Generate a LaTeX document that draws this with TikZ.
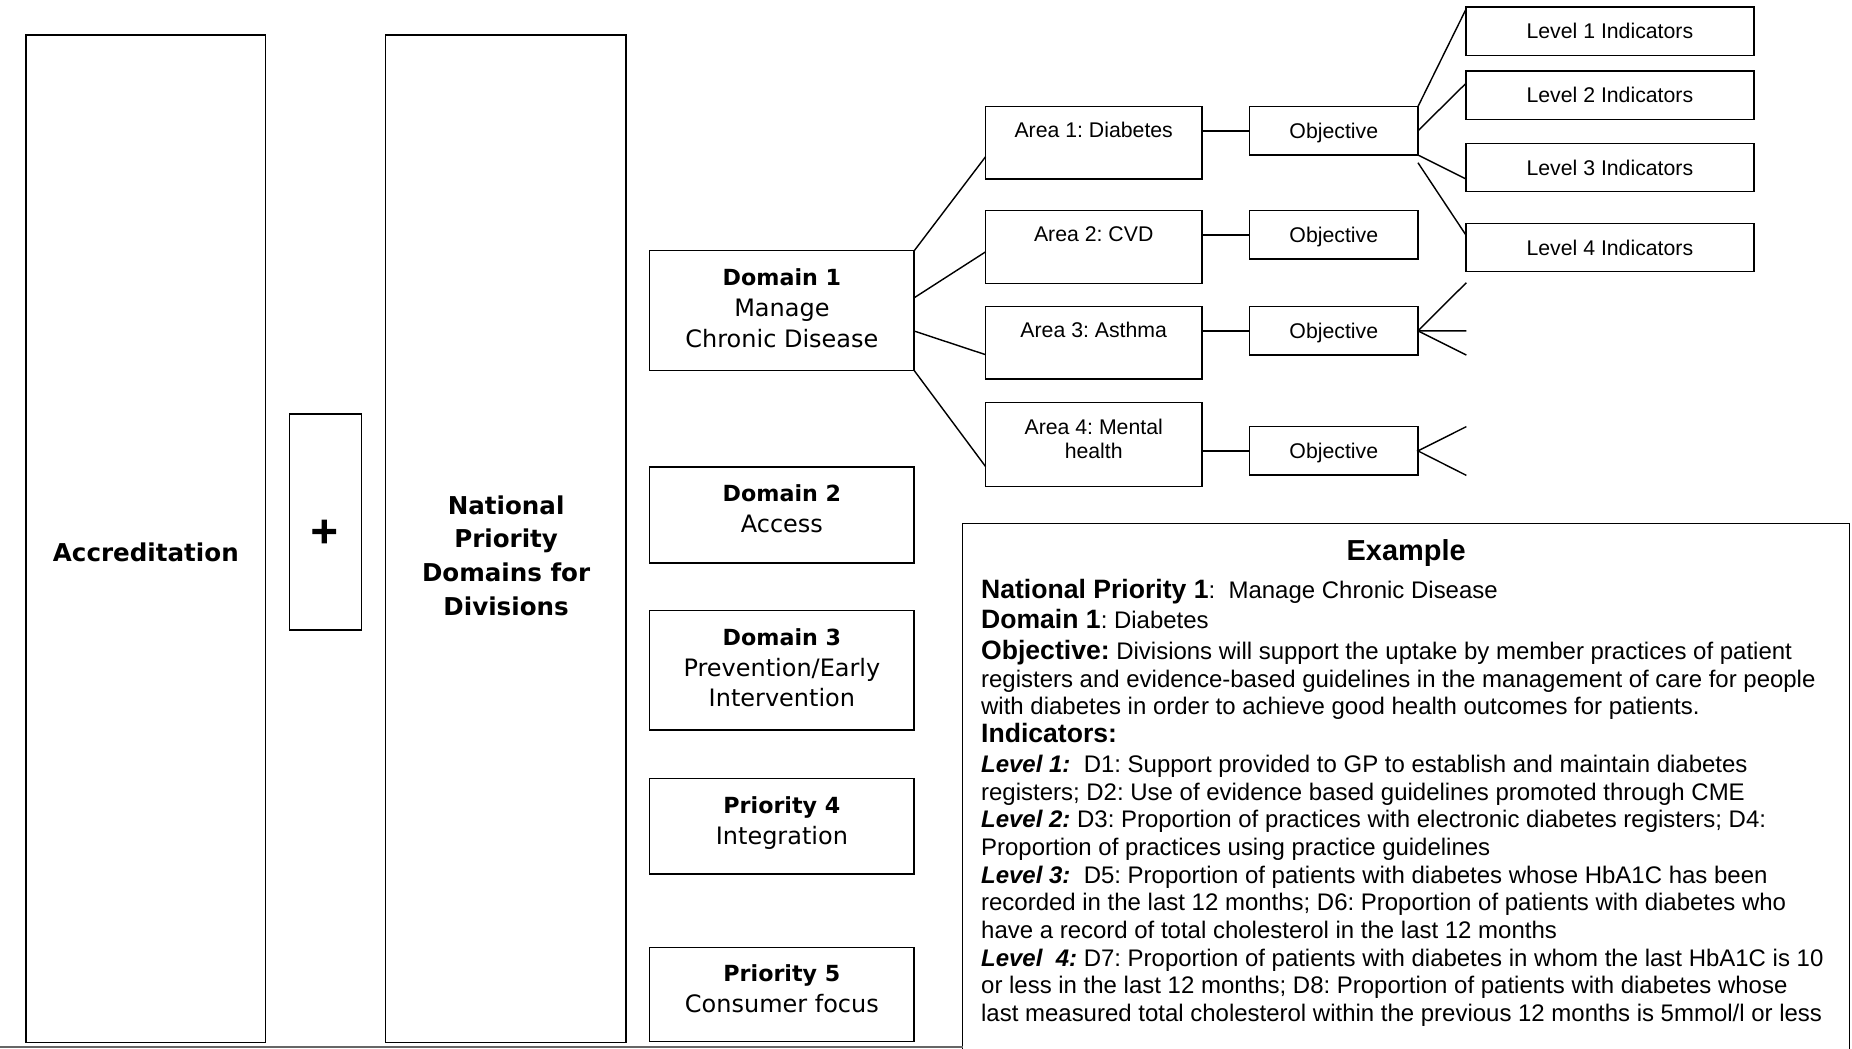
\documentclass[tikz,border=0pt]{standalone}
\usepackage{fontspec}
\setmainfont{Liberation Sans}
\newfontfamily\verdfont{DejaVu Sans}
\newfontfamily\plusfont[FakeBold=2.5]{DejaVu Sans Bold}
\newcommand{\hd}[1]{{\fontsize{22.5}{23.4}\selectfont\bfseries #1}}
\newcommand{\lv}[1]{\textbf{\textit{#1}}}
\newcommand{\dt}[1]{{\fontsize{18.8}{26}\selectfont\bfseries #1}}
\frenchspacing
\begin{document}
\begin{tikzpicture}[
            x=1pt, y=-1pt,
            frame/.style={draw, line width=1.2pt, inner sep=0pt, outer sep=0pt},
            link/.style={line width=1.2pt},
            headtext/.style={font=\verdfont\bfseries\fontsize{20.8}{28.7}\selectfont, align=center, inner sep=0pt},
            domtext/.style={font=\verdfont\fontsize{20.3}{26}\selectfont, align=center, inner sep=0pt},
            areatext/.style={font=\fontsize{18}{20}\selectfont, align=center, inner sep=0pt},
            smallbox/.style={frame, font=\fontsize{18}{20}\selectfont, text depth=0pt, minimum height=41pt}
                           ]
            \useasboundingbox (0,0) rectangle (1568,888);

            % 1. The two tall columns and the plus sign
            \node[frame, minimum width=203pt, minimum height=853pt] (acc) at (123.5,456) {};
            \node[headtext] (acc-t) at (123.5,468) {Accreditation};
            \node[frame, minimum width=61pt, minimum height=183pt] (plus) at (275.5,442) {};
            \node[inner sep=0pt, font=\plusfont\fontsize{31}{31}\selectfont] (plus-t) at (274.5,450) {+};
            \node[frame, minimum width=203.5pt, minimum height=853pt] (npd) at (428.25,456) {};
            \node[headtext] (npd-t) at (428.5,470.5) {National\\Priority\\Domains for\\Divisions};

            % 2. Domain and priority boxes
            \foreach \n/\yb/\h/\yt/\txt in {
                d1/263/101.4/261/{\dt{Domain 1}\\Manage\\Chronic Disease},
                d2/436/81/430.5/{\dt{Domain 2}\\Access},
                d3/567.5/101/565.5/{\dt{Domain 3}\\Prevention/Early\\Intervention},
                p4/699.5/81/697/{\dt{Priority 4}\\Integration},
                p5/842/80/837/{\dt{Priority 5}\\Consumer focus}} {
                \node[frame, minimum width=224pt, minimum height=\h pt] (\n) at (662,\yb) {};
                \node[domtext] (\n-t) at (662,\yt) {\txt};
            }

            % 3. Areas of the first domain
            \foreach \n/\yb/\h/\yt/\txt in {
                a1/121/61.3/110/{Area 1: Diabetes},
                a2/209.1/61.5/198/{Area 2: CVD},
                a3/290.3/61.2/279.4/{Area 3: Asthma},
                a4/376.5/71.1/371.5/{Area 4: Mental\\health}} {
                \node[frame, minimum width=183pt, minimum height=\h pt] (\n) at (926,\yb) {};
                \node[areatext] (\n-t) at (926,\yt) {\txt};
            }

            % 4. Objectives and indicator levels
            \foreach \n/\y in {o1/110.75, o2/198.85, o3/280.15, o4/381.75} {
                \node[smallbox, minimum width=142.5pt] (\n) at (1129.25,\y) {Objective};
            }
            \foreach \i/\y in {1/26.35, 2/80.55, 3/141.85, 4/209.55} {
                \node[smallbox, minimum width=243.7pt] (l\i) at (1363,\y) {Level \i\ Indicators};
            }
            \coordinate (o3up) at (1241.5,239.3);
            \coordinate (o3mid) at (1241.5,280.2);
            \coordinate (o3low) at (1241.5,300.6);
            \coordinate (o4up) at (1241.5,361.2);
            \coordinate (o4low) at (1241.5,402.5);

            % 5. Connectors
            \draw[link] (d1.north east) -- ([yshift=-11.6pt]a1.west);
            \draw[link] ([yshift=10.9pt]d1.east) -- ([yshift=-4.1pt]a2.west);
            \draw[link] ([yshift=-17.3pt]d1.east) -- ([yshift=-10pt]a3.west);
            \draw[link] (d1.south east) -- ([yshift=-18.6pt]a4.west);
            \foreach \i in {1,...,4} {
                \draw[link] (o\i.west -| a\i.east) -- (o\i.west);
            }
            \draw[link] (o1.north east) -- ([yshift=18.5pt]l1.west);
            \draw[link] (o1.east) -- ([yshift=10pt]l2.west);
            \draw[link] (o1.south east) -- ([yshift=-9.7pt]l3.west);
            \draw[link] ([yshift=-6.5pt]o1.south east) -- ([yshift=10.5pt]l4.west);
            \draw[link] (o3up) -- (o3.east) -- (o3low);
            \draw[link] (o3.east) -- (o3mid);
            \draw[link] (o4up) -- (o4.east) -- (o4low);

            % 6. The example box
            \draw[link] (815,888) |- (1566,443) -- (1566,888);
            \draw[line width=1.6pt, black!60] (0,886.8) -- (815,886.8);
            \node[font=\bfseries\fontsize{24.5}{28}\selectfont, inner sep=0pt] (ex-title) at (1190.5,468) {Example};
            \node[anchor=north west, align=left, inner sep=0pt, font=\fontsize{20.3}{23.4}\selectfont] (ex-body) at (830.5,490) {%
                \hd{National Priority 1}:~ Manage Chronic Disease\\[2.6pt]
                \hd{Domain 1}: Diabetes\\[2.6pt]
                \hd{Objective:} Divisions will support the uptake by member practices of patient\\
                registers and evidence-based guidelines in the management of care for people\\
                with diabetes in order to achieve good health outcomes for patients.\\
                \hd{Indicators:}\\[2pt]
                \lv{Level 1:}~ D1: Support provided to GP to establish and maintain diabetes\\
                registers; D2: Use of evidence based guidelines promoted through CME\\
                \lv{Level 2:} D3: Proportion of practices with electronic diabetes registers; D4:\\
                Proportion of practices using practice guidelines\\
                \lv{Level 3:}~ D5: Proportion of patients with diabetes whose HbA1C has been\\
                recorded in the last 12 months; D6: Proportion of patients with diabetes who\\
                have a record of total cholesterol in the last 12 months\\
                \lv{Level~ 4:} D7: Proportion of patients with diabetes in whom the last HbA1C is 10\\
                or less in the last 12 months; D8: Proportion of patients with diabetes whose\\
                last measured total cholesterol within the previous 12 months is 5mmol/l or less};

        \end{tikzpicture}
\end{document}
